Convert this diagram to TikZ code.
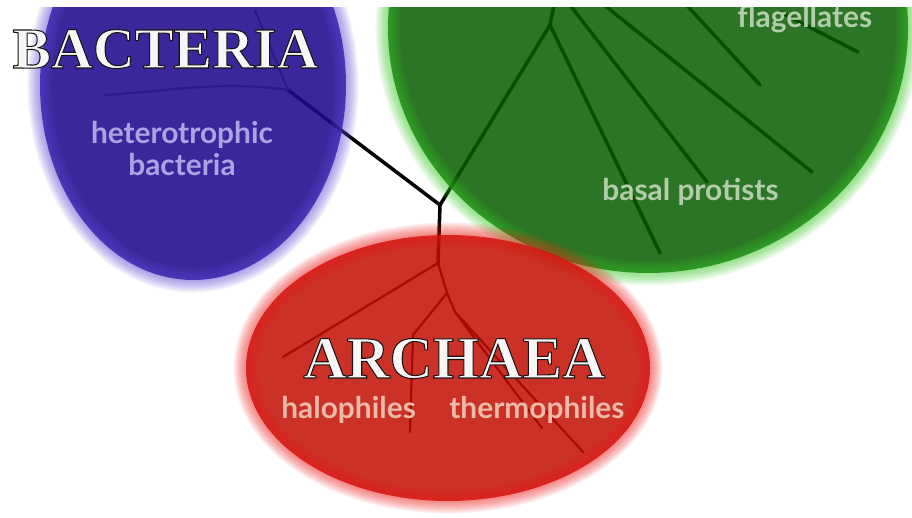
\documentclass[tikz,border=0pt]{standalone}
\usepackage{fontspec}
\setmainfont{Liberation Serif}
\newfontfamily\labelfont{Lato}
\definecolor{bactcore}{RGB}{32,10,142}
\definecolor{bactrim}{RGB}{95,75,215}
\definecolor{eukcore}{RGB}{8,92,0}
\definecolor{eukrim}{RGB}{55,200,35}
\definecolor{archcore}{RGB}{195,14,2}
\definecolor{archrim}{RGB}{238,25,25}
\definecolor{bactink}{RGB}{172,162,228}
\definecolor{eukink}{RGB}{178,206,168}
\definecolor{archink}{RGB}{236,186,166}
% dark rim round the capitals (text render mode 2)
\newcommand{\rimtext}[1]{\special{pdf:literal direct 0.1 0.08 0.08 RG 0.6 w 2 Tr}#1\special{pdf:literal direct 0 Tr}}

\begin{document}
\begin{tikzpicture}[x=0.02cm,y=-0.02cm,
    branch/.style={line width=2pt,line cap=round},
    twig/.style={line width=1.3pt,line cap=round},
    domainname/.style={font=\fontsize{33}{33}\selectfont\bfseries,anchor=base west,inner sep=0pt,text=gray!6},
    grouplabel/.style={font=\labelfont\bfseries\fontsize{17}{19}\selectfont,anchor=base west,inner sep=0pt}]

  \useasboundingbox (0,0) rectangle (912,517);
  \fill[white] (0,0) rectangle (912,517);

  \begin{scope}
    \clip (0,8) rectangle (912,517);

    % tree
    \coordinate (root) at (440,205);
    \coordinate (bact) at (288,90);
    \coordinate (euk) at (550,25);
    \coordinate (arch) at (438,263);
    \coordinate (arch2) at (447,293);
    \coordinate (arch3) at (455,312);
    \draw[branch] (root) -- (bact);
    \draw[twig,black!50] (bact) .. controls (220,80) and (160,92) .. (105,95);
    \draw[twig,black!50] (bact) -- (255,10);
    \draw[branch] (root) -- (euk);
    \draw[branch] (euk) -- (555,0);
    \draw[branch] (euk) -- (660,253);
    \draw[branch] (566,0) -- (707,182);
    \draw[branch] (598,0) -- (812,172);
    \draw[branch] (682,0) -- (760,85);
    \draw[branch] (780,12) -- (858,52);
    \draw[branch] (root) -- (arch);
    \draw[twig] (arch) -- (283,357);
    \draw[twig] (arch) -- (arch2);
    \draw[twig] (arch2) -- (413,335) -- (410,432);
    \draw[twig] (arch2) -- (arch3);
    \draw[twig] (arch3) -- (542,428);
    \draw[twig] (arch3) -- (583,452);

    % three domains
    \fill[bactcore,fill opacity=0.88] (193,85) ellipse [x radius=153,y radius=195];
    \foreach \w in {2,4,...,14}
      \draw[bactrim,line width=\w pt,draw opacity=0.09] (193,85) ellipse [x radius=153,y radius=195];
    \fill[eukcore,fill opacity=0.85] (648,28) ellipse [x radius=260,y radius=245];
    \foreach \w in {2,4,...,14}
      \draw[eukrim,line width=\w pt,draw opacity=0.09] (648,28) ellipse [x radius=260,y radius=245];
    \fill[archcore,fill opacity=0.85] (448,368) ellipse [x radius=202,y radius=133];
    \foreach \w in {2,4,...,14}
      \draw[archrim,line width=\w pt,draw opacity=0.09] (448,368) ellipse [x radius=202,y radius=133];

    % names
    \node[domainname] (bacteria) at (12,68) {\rimtext{BACTERIA}};
    \node[domainname,font=\fontsize{34}{34}\selectfont\bfseries] (archaea) at (303,378) {\rimtext{ARCHAEA}};

    \node[grouplabel,text=bactink,anchor=base] (hetero) at (182,143) {heterotrophic};
    \node[grouplabel,text=bactink,anchor=base] (hetbact) at (182,175) {bacteria};
    \node[grouplabel,text=eukink] (flag) at (737,28) {flagellates};
    \node[grouplabel,text=eukink] (basal) at (602,200) {basal protists};
    \node[grouplabel,text=archink] (halo) at (281,418) {halophiles};
    \node[grouplabel,text=archink] (thermo) at (449,418) {thermophiles};
  \end{scope}
\end{tikzpicture}
\end{document}
